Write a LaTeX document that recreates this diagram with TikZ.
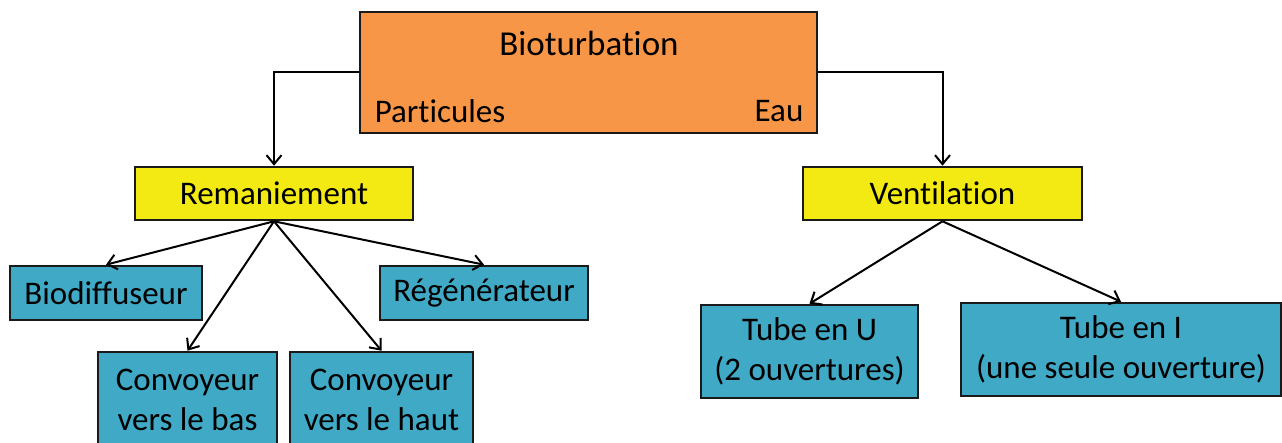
\documentclass[tikz,border=0pt]{standalone}
\usepackage{fontspec}
\setmainfont{Carlito}[Ligatures={NoCommon}]
\usetikzlibrary{arrows.meta}
\definecolor{orangebox}{HTML}{F79646}
\definecolor{yellowbox}{HTML}{F2EA12}
\definecolor{bluebox}{HTML}{40A9C6}
\definecolor{edge}{HTML}{1A1A1A}
\begin{document}
\begin{tikzpicture}[x=1pt,y=-1pt,
  box/.style={draw=edge,line width=2.6pt,inner sep=0pt,align=center,font=\fontsize{33}{40}\selectfont},
  orbox/.style={box,fill=orangebox},
  yebox/.style={box,fill=yellowbox},
  blbox/.style={box,fill=bluebox},
  lbl/.style={inner sep=0pt,font=\fontsize{33}{40}\selectfont},
  arr/.style={draw=black,line width=2pt,-{Straight Barb[length=9pt,width=15pt]}}]
\useasboundingbox (0,0) rectangle (1282,443);
\clip (0,0) rectangle (1282,443);
\node[orbox,minimum width=457pt,minimum height=121pt] (bio) at (588.5,72.5) {};
\node[lbl,font=\fontsize{35}{42}\selectfont] (biotitle) at (589,43) {Bioturbation};
\node[lbl] (part) at (440,111) {Particules};
\node[lbl] (eau) at (779,111) {Eau};
\node[yebox,minimum width=278pt,minimum height=53pt] (rem) at (274,193.5) {Remaniement};
\node[yebox,minimum width=279pt,minimum height=53pt] (ven) at (942.5,193.5) {Ventilation};
\node[blbox,minimum width=192pt,minimum height=54pt] (biod) at (106,293) {Biodiffuseur};
\node[blbox,minimum width=208pt,minimum height=54pt] (reg) at (484,293) {Régénérateur};
\node[blbox,minimum width=179pt,minimum height=96pt] (cbas) at (187.5,400) {Convoyeur\\vers le bas};
\node[blbox,minimum width=183pt,minimum height=96pt] (chaut) at (381.5,400) {Convoyeur\\vers le haut};
\node[blbox,minimum width=217pt,minimum height=93pt] (tu) at (809.5,351.5) {Tube en U\\(2 ouvertures)};
\node[blbox,minimum width=320pt,minimum height=93pt] (ti) at (1121,349.5) {Tube en I\\(une seule ouverture)};
\draw[arr] (bio.west) -| (rem.north);
\draw[arr] (bio.east) -| (ven.north);
\draw[arr] (rem.south) -- (biod.north);
\draw[arr] (rem.south) -- (cbas.north);
\draw[arr] (rem.south) -- (chaut.north);
\draw[arr] (rem.south) -- (reg.north);
\draw[arr] (ven.south) -- (tu.north);
\draw[arr] (ven.south) -- (ti.north);
\end{tikzpicture}
\end{document}
